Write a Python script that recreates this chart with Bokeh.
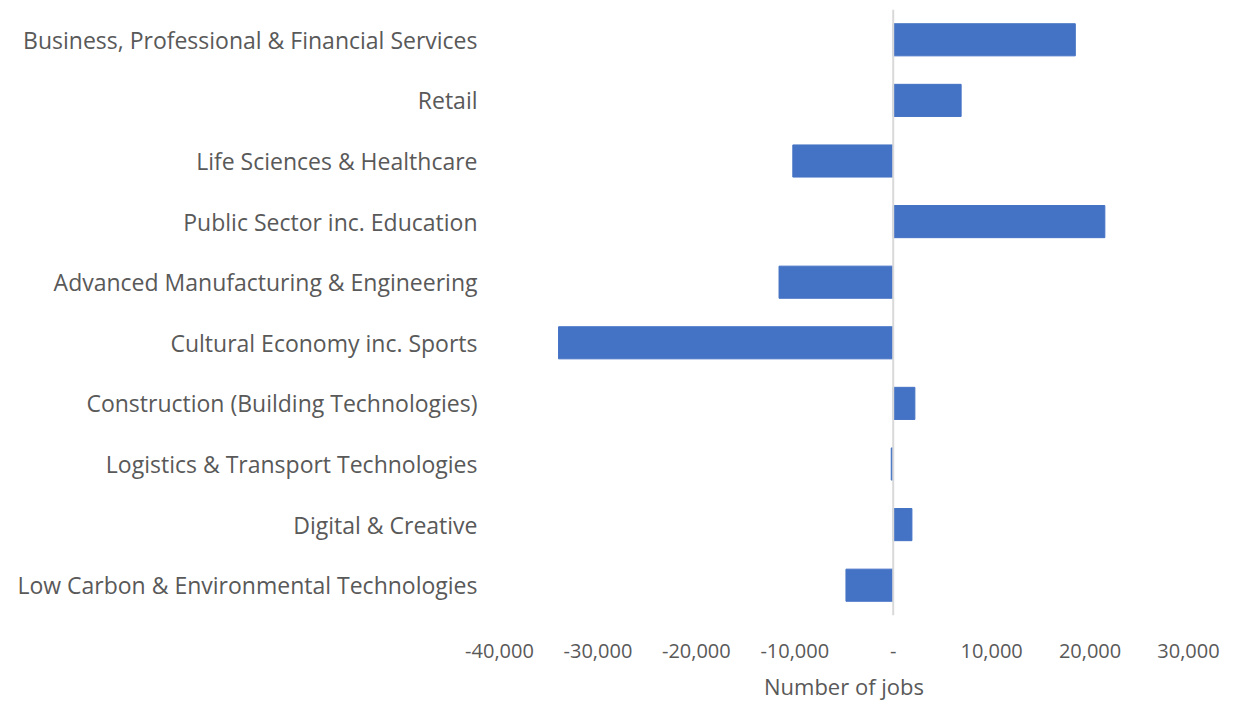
from bokeh.plotting import figure
from bokeh.models import Span, NumeralTickFormatter, FixedTicker, Range1d, FactorRange
from bokeh.embed import file_html
from bokeh.resources import INLINE

categories = [
    "Business, Professional & Financial Services",
    "Retail",
    "Life Sciences & Healthcare",
    "Public Sector inc. Education",
    "Advanced Manufacturing & Engineering",
    "Cultural Economy inc. Sports",
    "Construction (Building Technologies)",
    "Logistics & Transport Technologies",
    "Digital & Creative",
    "Low Carbon & Environmental Technologies",
]
jobs = [18500, 6900, -10200, 21500, -11600, -34000, 2200, -200, 1900, -4800]
tick_values = [-40000, -30000, -20000, -10000, 0, 10000, 20000, 30000]

FONT = "Open Sans"
GREY = "#595959"

p = figure(
    width=1227, height=703,
    y_range=FactorRange(factors=list(reversed(categories)), range_padding=0),
    x_range=Range1d(-40000, 30000),
    output_backend="svg", toolbar_location=None,
    min_border_left=499, min_border_right=39, min_border_top=9, min_border_bottom=86,
)
p.outline_line_color = None
p.xgrid.visible = False
p.ygrid.visible = False

p.hbar(y=categories, right=jobs, left=0, height=0.53, color="#4472C4")
p.add_layout(Span(location=0, dimension="height", line_color="#d9d9d9", line_width=2))

p.xaxis.ticker = FixedTicker(ticks=tick_values)
p.xaxis.formatter = NumeralTickFormatter(format="0,0")
p.xaxis.major_label_overrides = {0: "-"}
p.xaxis.axis_line_color = None
p.xaxis.major_tick_line_color = None
p.xaxis.minor_tick_line_color = None
p.xaxis.major_label_text_font = FONT
p.xaxis.major_label_text_font_size = "20px"
p.xaxis.major_label_text_color = GREY
p.xaxis.major_label_standoff = 22
p.xaxis.axis_label = "Number of jobs"
p.xaxis.axis_label_text_font = FONT
p.xaxis.axis_label_text_font_size = "22px"
p.xaxis.axis_label_text_font_style = "normal"
p.xaxis.axis_label_text_color = GREY
p.xaxis.axis_label_standoff = 10

p.yaxis.axis_line_color = None
p.yaxis.major_tick_line_color = None
p.yaxis.minor_tick_line_color = None
p.yaxis.major_label_text_font = FONT
p.yaxis.major_label_text_font_size = "23px"
p.yaxis.major_label_text_color = GREY
p.yaxis.major_label_standoff = 16

open("out.html", "w").write(file_html(p, INLINE))
